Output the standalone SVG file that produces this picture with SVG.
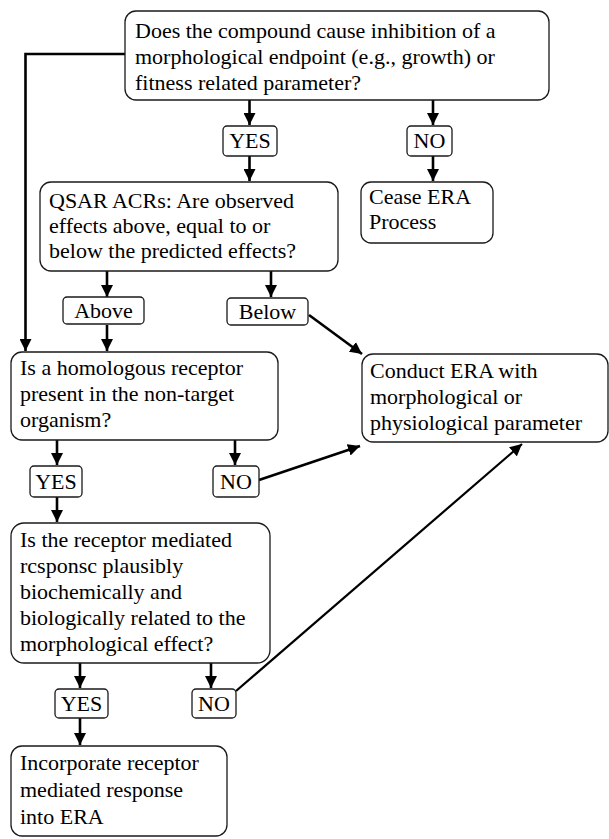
<svg xmlns="http://www.w3.org/2000/svg" width="609" height="839" viewBox="0 0 609 839">
  <style>
    .box { fill: #fff; stroke: #1a1a1a; stroke-width: 1.3; }
    .lbl { fill: #fff; stroke: #1a1a1a; stroke-width: 1.3; }
    .t { font-family: "Liberation Serif", "Times New Roman", serif; font-size: 22px; fill: #000; }
    .c { text-anchor: middle; }
    .wire { fill: none; stroke: #000; stroke-width: 2.6; marker-end: url(#arrow); }
    .wire-thin { fill: none; stroke: #000; stroke-width: 2.2; marker-end: url(#arrow); }
  </style>
  <defs>
    <marker id="arrow" markerUnits="userSpaceOnUse" markerWidth="12" markerHeight="12" refX="12" refY="6" orient="auto">
      <path d="M0,0 L12,6 L0,12 z" fill="#000"/>
    </marker>
  </defs>

  <rect width="609" height="839" fill="#fff"/>

  <!-- connectors -->
  <g id="connectors">
    <line class="wire" x1="249.5" y1="100" x2="249.5" y2="125"/>
    <line class="wire" x1="249.5" y1="156" x2="249.5" y2="181"/>
    <line class="wire" x1="433" y1="100" x2="433" y2="125"/>
    <line class="wire" x1="433" y1="156" x2="433" y2="181"/>
    <line class="wire" x1="107" y1="271" x2="107" y2="297"/>
    <line class="wire" x1="107" y1="325" x2="107" y2="351"/>
    <line class="wire" x1="271" y1="271" x2="271" y2="297"/>
    <line class="wire" x1="309" y1="315" x2="362" y2="354"/>
    <path class="wire" d="M125,54 H25.5 V351"/>
    <line class="wire" x1="57" y1="440" x2="57" y2="465"/>
    <line class="wire" x1="57" y1="497" x2="57" y2="522"/>
    <line class="wire" x1="235" y1="440" x2="235" y2="465"/>
    <line class="wire" x1="259" y1="480" x2="360" y2="446"/>
    <line class="wire" x1="80" y1="663" x2="80" y2="688"/>
    <line class="wire" x1="80" y1="718" x2="80" y2="745"/>
    <line class="wire" x1="211" y1="663" x2="211" y2="688"/>
    <line class="wire-thin" x1="236" y1="691" x2="522" y2="444"/>
  </g>

  <!-- question: inhibition -->
  <g id="q-inhibition">
    <rect class="box" x="125" y="11" width="424" height="89" rx="11"/>
    <text class="t" x="135" y="38">Does the compound cause inhibition of a<tspan x="135" dy="26">morphological endpoint (e.g., growth) or</tspan><tspan x="135" dy="26">fitness related parameter?</tspan></text>
  </g>

  <g id="yes-1">
    <rect class="lbl" x="223" y="126" width="54" height="30" rx="4"/>
    <text class="t c" x="250" y="148">YES</text>
  </g>
  <g id="no-1">
    <rect class="lbl" x="407" y="126" width="45" height="30" rx="4"/>
    <text class="t c" x="429.5" y="148">NO</text>
  </g>

  <g id="cease">
    <rect class="box" x="361" y="182" width="132" height="61" rx="10"/>
    <text class="t" x="369" y="204">Cease ERA<tspan x="369" dy="25">Process</tspan></text>
  </g>

  <g id="q-qsar">
    <rect class="box" x="40" y="182" width="298" height="89" rx="11"/>
    <text class="t" x="49" y="208">QSAR ACRs: Are observed<tspan x="49" dy="25">effects above, equal to or</tspan><tspan x="49" dy="25">below the predicted effects?</tspan></text>
  </g>

  <g id="above">
    <rect class="lbl" x="63" y="297" width="81" height="27" rx="4"/>
    <text class="t c" x="103.5" y="318">Above</text>
  </g>
  <g id="below">
    <rect class="lbl" x="227" y="298" width="81" height="27" rx="4"/>
    <text class="t c" x="267.5" y="319">Below</text>
  </g>

  <g id="conduct">
    <rect class="box" x="362" y="354" width="246" height="88" rx="11"/>
    <text class="t" x="370" y="378">Conduct ERA with<tspan x="370" dy="26">morphological or</tspan><tspan x="370" dy="26">physiological parameter</tspan></text>
  </g>

  <g id="q-homolog">
    <rect class="box" x="11" y="352" width="267" height="88" rx="11"/>
    <text class="t" x="20" y="375">Is a homologous receptor<tspan x="20" dy="26">present in the non-target</tspan><tspan x="20" dy="26">organism?</tspan></text>
  </g>

  <g id="yes-2">
    <rect class="lbl" x="30" y="466" width="52" height="31" rx="4"/>
    <text class="t c" x="56" y="489">YES</text>
  </g>
  <g id="no-2">
    <rect class="lbl" x="213" y="466" width="46" height="31" rx="4"/>
    <text class="t c" x="236" y="489">NO</text>
  </g>

  <g id="q-plausible">
    <rect class="box" x="11" y="523" width="259" height="140" rx="13"/>
    <text class="t" x="20" y="547">Is the receptor mediated<tspan x="20" dy="26">rcsponsc plausibly</tspan><tspan x="20" dy="26">biochemically and</tspan><tspan x="20" dy="26">biologically related to the</tspan><tspan x="20" dy="26">morphological effect?</tspan></text>
  </g>

  <g id="yes-3">
    <rect class="lbl" x="55" y="689" width="53" height="29" rx="4"/>
    <text class="t c" x="81.5" y="711">YES</text>
  </g>
  <g id="no-3">
    <rect class="lbl" x="192" y="689" width="44" height="29" rx="4"/>
    <text class="t c" x="214" y="711">NO</text>
  </g>

  <g id="incorporate">
    <rect class="box" x="11" y="746" width="216" height="90" rx="11"/>
    <text class="t" x="20" y="770">Incorporate receptor<tspan x="20" dy="27">mediated response</tspan><tspan x="20" dy="27">into ERA</tspan></text>
  </g>
</svg>
